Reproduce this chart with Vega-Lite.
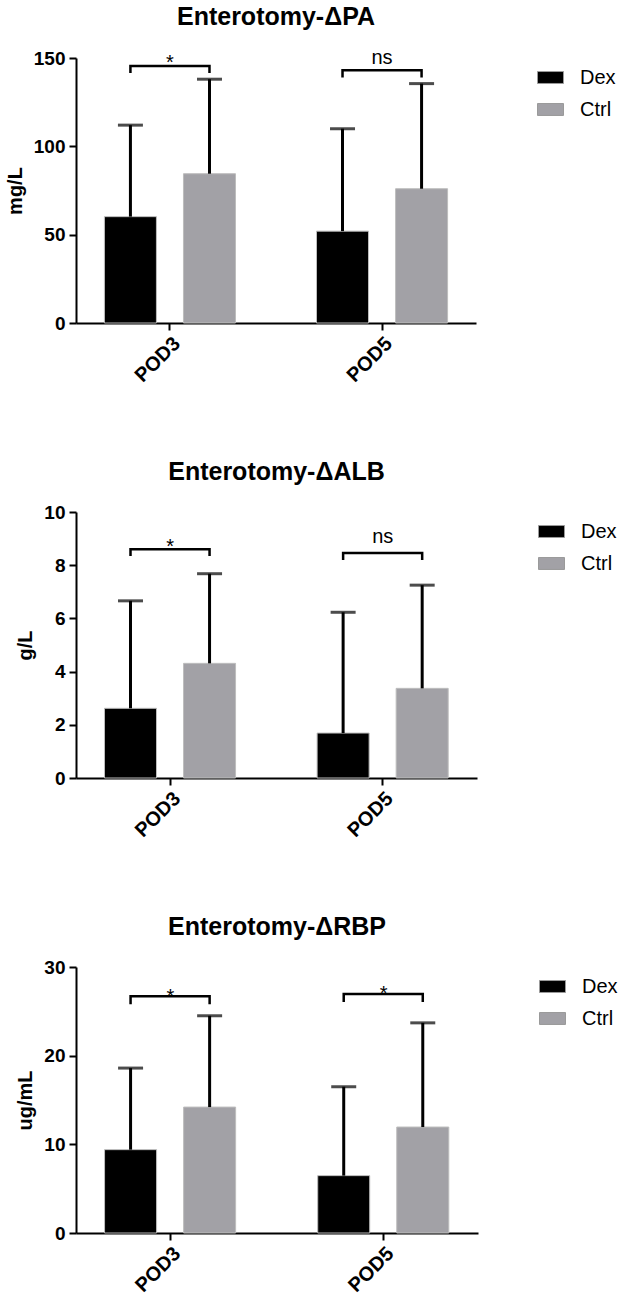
{
  "$schema": "https://vega.github.io/schema/vega-lite/v6.json",
  "background": "white",
  "padding": 5,
  "datasets": {
    "bars": [
      {"Measure": "PA", "Day": "POD3", "Group": "Dex", "Mean": 60.2, "Upper": 112},
      {"Measure": "PA", "Day": "POD3", "Group": "Ctrl", "Mean": 84.5, "Upper": 138},
      {"Measure": "PA", "Day": "POD5", "Group": "Dex", "Mean": 52, "Upper": 110},
      {"Measure": "PA", "Day": "POD5", "Group": "Ctrl", "Mean": 76, "Upper": 135.5},
      {"Measure": "ALB", "Day": "POD3", "Group": "Dex", "Mean": 2.62, "Upper": 6.66},
      {"Measure": "ALB", "Day": "POD3", "Group": "Ctrl", "Mean": 4.31, "Upper": 7.68},
      {"Measure": "ALB", "Day": "POD5", "Group": "Dex", "Mean": 1.69, "Upper": 6.23},
      {"Measure": "ALB", "Day": "POD5", "Group": "Ctrl", "Mean": 3.37, "Upper": 7.25},
      {"Measure": "RBP", "Day": "POD3", "Group": "Dex", "Mean": 9.4, "Upper": 18.6},
      {"Measure": "RBP", "Day": "POD3", "Group": "Ctrl", "Mean": 14.2, "Upper": 24.5},
      {"Measure": "RBP", "Day": "POD5", "Group": "Dex", "Mean": 6.47, "Upper": 16.5},
      {"Measure": "RBP", "Day": "POD5", "Group": "Ctrl", "Mean": 11.95, "Upper": 23.7}
    ],
    "brackets": [
      {"Measure": "PA", "Day": "POD3", "Group": "Dex", "Level": 141.5, "Step": 1},
      {"Measure": "PA", "Day": "POD3", "Group": "Dex", "Level": 145.5, "Step": 2},
      {"Measure": "PA", "Day": "POD3", "Group": "Ctrl", "Level": 145.5, "Step": 3},
      {"Measure": "PA", "Day": "POD3", "Group": "Ctrl", "Level": 141.5, "Step": 4},
      {"Measure": "PA", "Day": "POD5", "Group": "Dex", "Level": 139, "Step": 1},
      {"Measure": "PA", "Day": "POD5", "Group": "Dex", "Level": 143, "Step": 2},
      {"Measure": "PA", "Day": "POD5", "Group": "Ctrl", "Level": 143, "Step": 3},
      {"Measure": "PA", "Day": "POD5", "Group": "Ctrl", "Level": 139, "Step": 4},
      {"Measure": "ALB", "Day": "POD3", "Group": "Dex", "Level": 8.35, "Step": 1},
      {"Measure": "ALB", "Day": "POD3", "Group": "Dex", "Level": 8.6, "Step": 2},
      {"Measure": "ALB", "Day": "POD3", "Group": "Ctrl", "Level": 8.6, "Step": 3},
      {"Measure": "ALB", "Day": "POD3", "Group": "Ctrl", "Level": 8.35, "Step": 4},
      {"Measure": "ALB", "Day": "POD5", "Group": "Dex", "Level": 8.2, "Step": 1},
      {"Measure": "ALB", "Day": "POD5", "Group": "Dex", "Level": 8.46, "Step": 2},
      {"Measure": "ALB", "Day": "POD5", "Group": "Ctrl", "Level": 8.46, "Step": 3},
      {"Measure": "ALB", "Day": "POD5", "Group": "Ctrl", "Level": 8.2, "Step": 4},
      {"Measure": "RBP", "Day": "POD3", "Group": "Dex", "Level": 25.8, "Step": 1},
      {"Measure": "RBP", "Day": "POD3", "Group": "Dex", "Level": 26.7, "Step": 2},
      {"Measure": "RBP", "Day": "POD3", "Group": "Ctrl", "Level": 26.7, "Step": 3},
      {"Measure": "RBP", "Day": "POD3", "Group": "Ctrl", "Level": 25.8, "Step": 4},
      {"Measure": "RBP", "Day": "POD5", "Group": "Dex", "Level": 26.05, "Step": 1},
      {"Measure": "RBP", "Day": "POD5", "Group": "Dex", "Level": 26.95, "Step": 2},
      {"Measure": "RBP", "Day": "POD5", "Group": "Ctrl", "Level": 26.95, "Step": 3},
      {"Measure": "RBP", "Day": "POD5", "Group": "Ctrl", "Level": 26.05, "Step": 4}
    ],
    "marks": [
      {"Measure": "PA", "Day": "POD3", "Label": "*", "Level": 144.0},
      {"Measure": "PA", "Day": "POD5", "Label": "ns", "Level": 146.6},
      {"Measure": "ALB", "Day": "POD3", "Label": "*", "Level": 8.44},
      {"Measure": "ALB", "Day": "POD5", "Label": "ns", "Level": 8.83},
      {"Measure": "RBP", "Day": "POD3", "Label": "*", "Level": 25.9},
      {"Measure": "RBP", "Day": "POD5", "Label": "*", "Level": 26.3}
    ]
  },
  "config": {
    "font": "Liberation Sans",
    "view": {"stroke": null},
    "title": {"fontSize": 25, "fontWeight": "bold", "color": "black", "anchor": "middle", "frame": "group", "offset": 18},
    "axis": {
      "grid": false,
      "domainColor": "black",
      "domainWidth": 2,
      "tickColor": "black",
      "tickWidth": 2,
      "tickSize": 7,
      "labelColor": "black",
      "labelFontSize": 19,
      "labelFontWeight": "bold",
      "labelPadding": 4,
      "titleColor": "black",
      "titleFontSize": 20,
      "titleFontWeight": "bold",
      "titlePadding": 8
    },
    "axisX": {"labelAngle": -45, "labelFontSize": 20, "labelPadding": 3},
    "legend": {
      "orient": "right",
      "offset": 55,
      "padding": 6,
      "title": null,
      "symbolType": "M-1,-0.46H1V0.46H-1Z",
      "symbolSize": 676,
      "symbolStrokeColor": "#9a9a9a",
      "symbolStrokeWidth": 1,
      "labelFontSize": 20,
      "labelColor": "black",
      "labelOffset": 16,
      "rowPadding": 8
    }
  },
  "columns": 1,
  "align": "none",
  "spacing": 74,
  "resolve": {"scale": {"color": "independent"}, "legend": {"color": "independent"}},
  "concat": [
    {
      "title": "Enterotomy-ΔPA",
      "width": 400,
      "height": 265,
      "encoding": {
        "x": {"field": "Day", "type": "nominal", "title": null, "scale": {"paddingInner": 0.382, "paddingOuter": 0.134}}
      },
      "layer": [
        {
          "data": {"name": "bars"},
          "transform": [{"filter": "datum.Measure === 'PA'"}],
          "mark": {"type": "bar", "stroke": "#bdbdbd", "strokeWidth": 1},
          "encoding": {
            "xOffset": {"field": "Group", "type": "nominal", "sort": ["Dex", "Ctrl"], "scale": {"paddingInner": 0.342, "paddingOuter": 0}},
            "y": {"field": "Mean", "type": "quantitative", "title": "mg/L", "scale": {"domain": [0, 150], "nice": false}, "axis": {"values": [0, 50, 100, 150]}},
            "color": {"field": "Group", "type": "nominal", "scale": {"domain": ["Dex", "Ctrl"], "range": ["#000000", "#a2a1a6"]}}
          }
        },
        {
          "data": {"name": "bars"},
          "transform": [{"filter": "datum.Measure === 'PA'"}],
          "mark": {"type": "rule", "color": "black", "strokeWidth": 3},
          "encoding": {
            "xOffset": {"field": "Group", "type": "nominal", "sort": ["Dex", "Ctrl"], "scale": {"paddingInner": 0.342, "paddingOuter": 0}},
            "y": {"field": "Mean", "type": "quantitative"},
            "y2": {"field": "Upper"}
          }
        },
        {
          "data": {"name": "bars"},
          "transform": [{"filter": "datum.Measure === 'PA'"}],
          "mark": {"type": "tick", "color": "black", "thickness": 3, "size": 25, "orient": "horizontal"},
          "encoding": {
            "xOffset": {"field": "Group", "type": "nominal", "sort": ["Dex", "Ctrl"], "scale": {"paddingInner": 0.342, "paddingOuter": 0}},
            "y": {"field": "Upper", "type": "quantitative"}
          }
        },
        {
          "data": {"name": "brackets"},
          "transform": [{"filter": "datum.Measure === 'PA'"}],
          "mark": {"type": "line", "color": "black", "strokeWidth": 2.5, "strokeJoin": "miter"},
          "encoding": {
            "xOffset": {"field": "Group", "type": "nominal", "sort": ["Dex", "Ctrl"], "scale": {"paddingInner": 0.342, "paddingOuter": 0}},
            "y": {"field": "Level", "type": "quantitative"},
            "detail": {"field": "Day"},
            "order": {"field": "Step"}
          }
        },
        {
          "data": {"name": "marks"},
          "transform": [{"filter": "datum.Measure === 'PA'"}],
          "mark": {"type": "text", "fontSize": 20, "color": "black", "baseline": "alphabetic"},
          "encoding": {
            "y": {"field": "Level", "type": "quantitative"},
            "text": {"field": "Label"}
          }
        }
      ]
    },
    {
      "title": "Enterotomy-ΔALB",
      "width": 401,
      "height": 266,
      "encoding": {
        "x": {"field": "Day", "type": "nominal", "title": null, "scale": {"paddingInner": 0.382, "paddingOuter": 0.134}}
      },
      "layer": [
        {
          "data": {"name": "bars"},
          "transform": [{"filter": "datum.Measure === 'ALB'"}],
          "mark": {"type": "bar", "stroke": "#bdbdbd", "strokeWidth": 1},
          "encoding": {
            "xOffset": {"field": "Group", "type": "nominal", "sort": ["Dex", "Ctrl"], "scale": {"paddingInner": 0.342, "paddingOuter": 0}},
            "y": {"field": "Mean", "type": "quantitative", "title": "g/L", "scale": {"domain": [0, 10], "nice": false}, "axis": {"values": [0, 2, 4, 6, 8, 10]}},
            "color": {"field": "Group", "type": "nominal", "scale": {"domain": ["Dex", "Ctrl"], "range": ["#000000", "#a2a1a6"]}}
          }
        },
        {
          "data": {"name": "bars"},
          "transform": [{"filter": "datum.Measure === 'ALB'"}],
          "mark": {"type": "rule", "color": "black", "strokeWidth": 3},
          "encoding": {
            "xOffset": {"field": "Group", "type": "nominal", "sort": ["Dex", "Ctrl"], "scale": {"paddingInner": 0.342, "paddingOuter": 0}},
            "y": {"field": "Mean", "type": "quantitative"},
            "y2": {"field": "Upper"}
          }
        },
        {
          "data": {"name": "bars"},
          "transform": [{"filter": "datum.Measure === 'ALB'"}],
          "mark": {"type": "tick", "color": "black", "thickness": 3, "size": 25, "orient": "horizontal"},
          "encoding": {
            "xOffset": {"field": "Group", "type": "nominal", "sort": ["Dex", "Ctrl"], "scale": {"paddingInner": 0.342, "paddingOuter": 0}},
            "y": {"field": "Upper", "type": "quantitative"}
          }
        },
        {
          "data": {"name": "brackets"},
          "transform": [{"filter": "datum.Measure === 'ALB'"}],
          "mark": {"type": "line", "color": "black", "strokeWidth": 2.5, "strokeJoin": "miter"},
          "encoding": {
            "xOffset": {"field": "Group", "type": "nominal", "sort": ["Dex", "Ctrl"], "scale": {"paddingInner": 0.342, "paddingOuter": 0}},
            "y": {"field": "Level", "type": "quantitative"},
            "detail": {"field": "Day"},
            "order": {"field": "Step"}
          }
        },
        {
          "data": {"name": "marks"},
          "transform": [{"filter": "datum.Measure === 'ALB'"}],
          "mark": {"type": "text", "fontSize": 20, "color": "black", "baseline": "alphabetic"},
          "encoding": {
            "y": {"field": "Level", "type": "quantitative"},
            "text": {"field": "Label"}
          }
        }
      ]
    },
    {
      "title": "Enterotomy-ΔRBP",
      "width": 402,
      "height": 266,
      "encoding": {
        "x": {"field": "Day", "type": "nominal", "title": null, "scale": {"paddingInner": 0.382, "paddingOuter": 0.134}}
      },
      "layer": [
        {
          "data": {"name": "bars"},
          "transform": [{"filter": "datum.Measure === 'RBP'"}],
          "mark": {"type": "bar", "stroke": "#bdbdbd", "strokeWidth": 1},
          "encoding": {
            "xOffset": {"field": "Group", "type": "nominal", "sort": ["Dex", "Ctrl"], "scale": {"paddingInner": 0.342, "paddingOuter": 0}},
            "y": {"field": "Mean", "type": "quantitative", "title": "ug/mL", "scale": {"domain": [0, 30], "nice": false}, "axis": {"values": [0, 10, 20, 30]}},
            "color": {"field": "Group", "type": "nominal", "scale": {"domain": ["Dex", "Ctrl"], "range": ["#000000", "#a2a1a6"]}}
          }
        },
        {
          "data": {"name": "bars"},
          "transform": [{"filter": "datum.Measure === 'RBP'"}],
          "mark": {"type": "rule", "color": "black", "strokeWidth": 3},
          "encoding": {
            "xOffset": {"field": "Group", "type": "nominal", "sort": ["Dex", "Ctrl"], "scale": {"paddingInner": 0.342, "paddingOuter": 0}},
            "y": {"field": "Mean", "type": "quantitative"},
            "y2": {"field": "Upper"}
          }
        },
        {
          "data": {"name": "bars"},
          "transform": [{"filter": "datum.Measure === 'RBP'"}],
          "mark": {"type": "tick", "color": "black", "thickness": 3, "size": 25, "orient": "horizontal"},
          "encoding": {
            "xOffset": {"field": "Group", "type": "nominal", "sort": ["Dex", "Ctrl"], "scale": {"paddingInner": 0.342, "paddingOuter": 0}},
            "y": {"field": "Upper", "type": "quantitative"}
          }
        },
        {
          "data": {"name": "brackets"},
          "transform": [{"filter": "datum.Measure === 'RBP'"}],
          "mark": {"type": "line", "color": "black", "strokeWidth": 2.5, "strokeJoin": "miter"},
          "encoding": {
            "xOffset": {"field": "Group", "type": "nominal", "sort": ["Dex", "Ctrl"], "scale": {"paddingInner": 0.342, "paddingOuter": 0}},
            "y": {"field": "Level", "type": "quantitative"},
            "detail": {"field": "Day"},
            "order": {"field": "Step"}
          }
        },
        {
          "data": {"name": "marks"},
          "transform": [{"filter": "datum.Measure === 'RBP'"}],
          "mark": {"type": "text", "fontSize": 20, "color": "black", "baseline": "alphabetic"},
          "encoding": {
            "y": {"field": "Level", "type": "quantitative"},
            "text": {"field": "Label"}
          }
        }
      ]
    }
  ]
}
